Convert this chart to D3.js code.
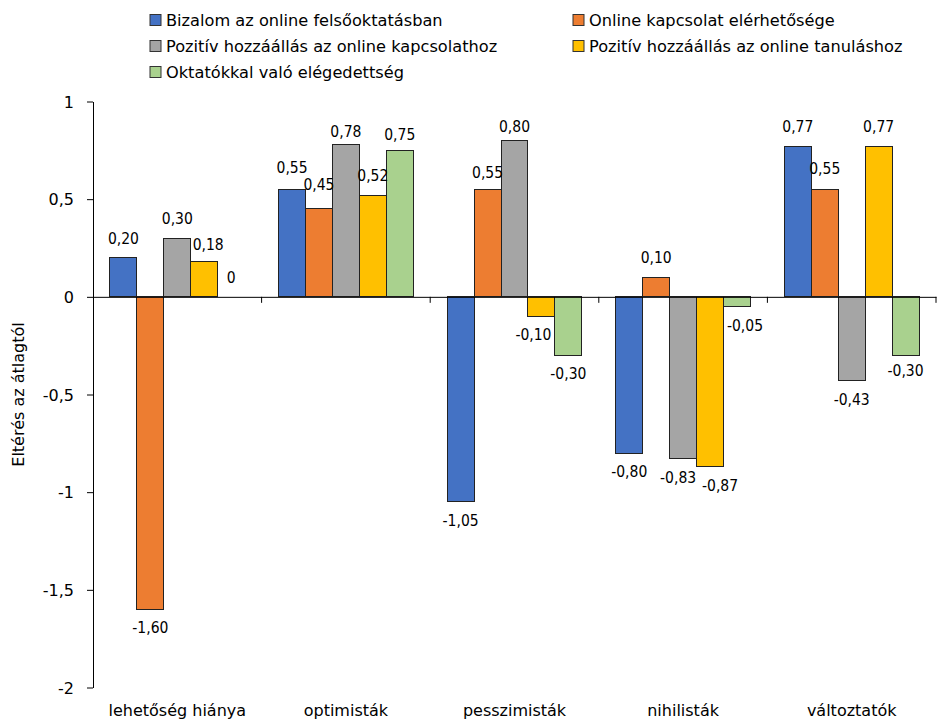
<!DOCTYPE html>
<html>
<head>
<meta charset="utf-8">
<script src="https://cdn.jsdelivr.net/npm/d3@7/dist/d3.min.js"></script>
<style>
  html, body { margin: 0; padding: 0; background: #fff; }
  svg { display: block; font-family: "DejaVu Sans", Verdana, sans-serif; }
  .cond { font-family: "DejaVu Sans Condensed", "DejaVu Sans", sans-serif; font-stretch: condensed; }
</style>
</head>
<body>
<svg id="chart" width="937" height="724"></svg>
<script>
// Groups along the x axis
const categories = ["lehetőség hiánya", "optimisták", "pesszimisták", "nihilisták", "változtatók"];

// Series names (legend order)
const seriesNames = [
  "Bizalom az online felsőoktatásban",
  "Online kapcsolat elérhetősége",
  "Pozitív hozzáállás az online kapcsolathoz",
  "Pozitív hozzáállás az online tanuláshoz",
  "Oktatókkal való elégedettség"
];

// Values per series, one per category
const bizalom      = [0.20, 0.55, -1.05, -0.80, 0.77];
const kapcsolat    = [-1.60, 0.45, 0.55, 0.10, 0.55];
const hozzaallasK  = [0.30, 0.78, 0.80, -0.83, -0.43];
const hozzaallasT  = [0.18, 0.52, -0.10, -0.87, 0.77];
const elegedettseg = [0, 0.75, -0.30, -0.05, -0.30];

const yTicks = [1, 0.5, 0, -0.5, -1, -1.5, -2];
const yTitle = "Eltérés az átlagtól";

const seriesValues = [bizalom, kapcsolat, hozzaallasK, hozzaallasT, elegedettseg];
const colors = ["#4472C4", "#ED7D31", "#A5A5A5", "#FFC000", "#A9D18E"];

// Label offsets (category-series) so crowded labels don't collide
const labelNudge = {
  "0-3": [4, 2],
  "1-0": [0, -2], "1-1": [0, -5], "1-2": [0, 7], "1-4": [0, 4],
  "2-1": [0, 3], "2-2": [0, 5], "2-3": [-8, 0],
  "3-2": [-5, 0], "3-3": [10, 0], "3-4": [8, 0],
  "4-1": [0, -1], "4-4": [0, -3]
};

const svg = d3.select("#chart");
const margin = { left: 93, right: 936, top: 101.5, bottom: 687.5 };

// Hungarian decimal comma, plain hyphen for negatives
const fmt = v => v === 0 ? "0" : v.toFixed(2).replace(".", ",");
const tickFmt = v => String(v).replace(".", ",");

const y = d3.scaleLinear().domain([-2, 1]).range([margin.bottom, margin.top]);
const x0 = d3.scaleBand().domain(categories).range([margin.left, margin.right]).paddingInner(0).paddingOuter(0);
const x1 = d3.scaleBand().domain(d3.range(seriesNames.length)).range([0, x0.bandwidth()]).paddingOuter(0.63).paddingInner(0);

const cells = (c, ci) => seriesValues.map((vals, si) => ({ si, ci, v: vals[ci] }));

// Bars
const groups = svg.append("g").selectAll("g")
  .data(categories)
  .join("g")
  .attr("transform", d => `translate(${x0(d)},0)`);

groups.selectAll("rect")
  .data(cells)
  .join("rect")
  .attr("x", d => x1(d.si))
  .attr("width", x1.bandwidth())
  .attr("y", d => y(Math.max(0, d.v)))
  .attr("height", d => Math.abs(y(d.v) - y(0)))
  .attr("fill", d => colors[d.si])
  .attr("stroke", "#222")
  .attr("stroke-width", 1)
  .attr("shape-rendering", "crispEdges");

// Value labels
groups.selectAll("text")
  .data(cells)
  .join("text")
  .attr("class", "cond")
  .attr("x", d => x1(d.si) + x1.bandwidth() / 2 + ((labelNudge[d.ci + "-" + d.si] || [0, 0])[0]))
  .attr("y", d => (d.v >= 0 ? y(d.v) - 14 : y(d.v) + 24) + ((labelNudge[d.ci + "-" + d.si] || [0, 0])[1]))
  .attr("text-anchor", "middle")
  .attr("font-size", 15.5)
  .attr("fill", "#000")
  .text(d => fmt(d.v));

// Y axis
const yAxis = svg.append("g")
  .attr("transform", `translate(${margin.left},0)`)
  .call(d3.axisLeft(y).tickValues(yTicks).tickFormat(tickFmt).tickSize(6).tickSizeOuter(0));
yAxis.select(".domain").attr("stroke", "#000");
yAxis.selectAll(".tick line").attr("stroke", "#000");
yAxis.selectAll("text").attr("font-size", 16).attr("fill", "#000")
  .attr("font-family", "DejaVu Sans, sans-serif").attr("x", -19).attr("dy", "0.35em");

// X axis along zero
const xAxis = svg.append("g")
  .attr("transform", `translate(0,${y(0)})`)
  .call(d3.axisBottom(x0).tickValues([]).tickSizeOuter(0));
xAxis.select(".domain").attr("stroke", "#000");
const boundaries = categories.map(c => x0(c)).concat([x0.range()[1]]);
xAxis.selectAll(".btick").data(boundaries.slice(1)).join("line")
  .attr("class", "btick")
  .attr("x1", d => d).attr("x2", d => d).attr("y1", 0).attr("y2", 6)
  .attr("stroke", "#000");

// Category labels at the bottom
svg.append("g").selectAll("text")
  .data(categories)
  .join("text")
  .attr("x", d => x0(d) + x0.bandwidth() / 2)
  .attr("y", 716)
  .attr("text-anchor", "middle")
  .attr("font-size", 16)
  .text(d => d);

// Y axis title
svg.append("text")
  .attr("transform", `translate(24,${(margin.top + margin.bottom) / 2}) rotate(-90)`)
  .attr("text-anchor", "middle")
  .attr("font-size", 16)
  .text(yTitle);

// Legend
const legendPos = [[150, 20], [573, 20], [150, 46], [573, 46], [150, 72]];
const legend = svg.append("g").selectAll("g")
  .data(seriesNames)
  .join("g")
  .attr("transform", (d, i) => `translate(${legendPos[i][0]},${legendPos[i][1]})`);
legend.append("rect")
  .attr("x", 0).attr("y", -5.5).attr("width", 11).attr("height", 11)
  .attr("fill", (d, i) => colors[i]).attr("stroke", "#333").attr("stroke-width", 1);
legend.append("text")
  .attr("x", 16).attr("y", 0).attr("dy", "0.35em")
  .attr("font-size", 16.2)
  .text(d => d);
</script>
</body>
</html>
